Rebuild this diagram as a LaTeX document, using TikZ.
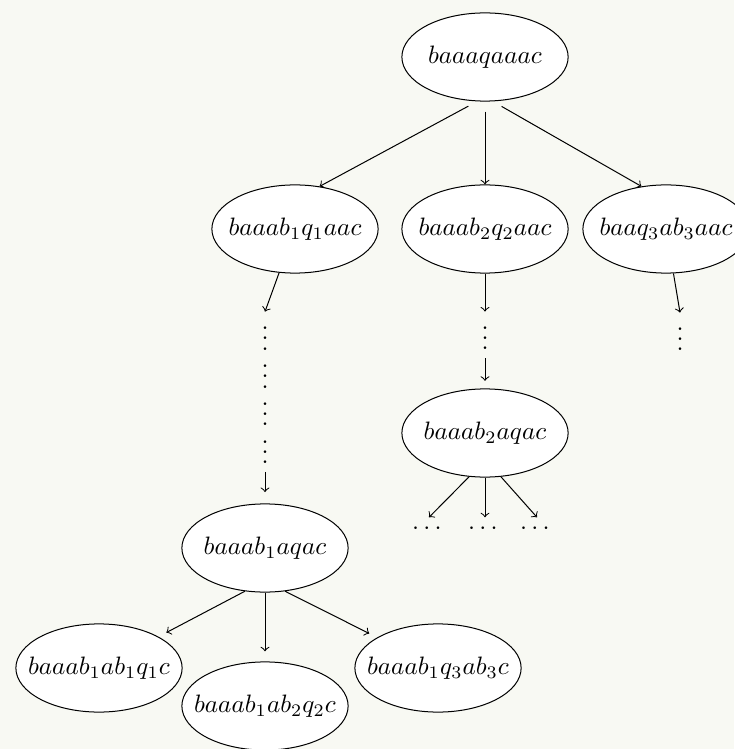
\documentclass[tikz,border=0pt]{standalone}
\usepackage{amsmath,amssymb}
\usepackage{tikz}
\usetikzlibrary{shapes.geometric}
\pgfdeclarelayer{bg}
\pgfsetlayers{bg,main}
\definecolor{paper}{RGB}{248,249,243}
\tikzset{
    state/.style={ellipse, draw, fill=white, inner sep=0pt, minimum width=66pt, minimum height=35pt},
    vdotsbox/.style={inner sep=0pt},
    hdotsbox/.style={inner sep=0pt, text height=6.5pt, text depth=0pt},
    arr/.style={->}
}
\tikzset{every label/.style={shape=rectangle, draw=none, fill=none}}

\begin{document}
\begin{tikzpicture}[x=0.397pt, y=-0.397pt]
        \useasboundingbox (0,0) rectangle (734,749);
        \node (top) [state, label=center:{$baaaqaaac$}] at (485, 57) {};
        \node (n1) [state, label=center:{$baaab_1q_1aac$}] at (295, 229) {};
        \node (n2) [state, label=center:{$baaab_2q_2aac$}] at (485, 229) {};
        \node (n3) [state, label=center:{$baaq_3ab_3aac$}] at (666, 229) {};
        \node (d1) [vdotsbox] at (265, 388) {\vbox{\offinterlineskip\hbox{$\vdots$}\hbox{$\vdots$}\hbox{$\vdots$}\hbox{$\vdots$}}};
        \node (d2) [vdotsbox] at (485, 331) {$\vdots$};
        \node (d3) [vdotsbox] at (680, 332) {$\vdots$};
        \node (m1) [state, label=center:{$baaab_1aqac$}] at (265, 548) {};
        \node (m2) [state, label=center:{$baaab_2aqac$}] at (485, 433) {};
        \node (e1) [hdotsbox] at (429, 526) {$\cdots$};
        \node (e2) [hdotsbox] at (485, 526) {$\cdots$};
        \node (e3) [hdotsbox] at (537, 526) {$\cdots$};
        \node (l1) [state, label=center:{$baaab_1ab_1q_1c$}] at (99, 668) {};
        \node (l2) [state, label=center:{$baaab_1ab_2q_2c$}] at (265, 706) {};
        \node (l3) [state, label=center:{$baaab_1q_3ab_3c$}] at (438, 668) {};
        \begin{pgfonlayer}{bg}
                \fill [paper] (0,0) rectangle (734,749);
                \draw (top.-100) edge [arr, shorten <=4pt] (n1.60);
                \draw (top) edge [arr, shorten <=4pt] (n2);
                \draw (top.-80) edge [arr, shorten <=4pt] (n3.120);
                \draw (n1) edge [arr] (d1.north);
                \draw (n2) edge [arr] (d2);
                \draw (n3) edge [arr] (d3.north);
                \draw (d1) edge [arr, shorten <=3pt, shorten >=4.5pt] (m1);
                \draw (d2) edge [arr, shorten <=3pt, shorten >=3pt] (m2);
                \draw (m2.-110) edge [arr] (e1.north);
                \draw (m2) edge [arr] (e2);
                \draw (m2.-70) edge [arr] (e3.north);
                \draw (m1.-115) edge [arr, shorten >=3.5pt] (l1);
                \draw (m1) edge [arr, shorten >=4pt] (l2);
                \draw (m1.-65) edge [arr, shorten >=3.5pt] (l3);
        \end{pgfonlayer}
\end{tikzpicture}
\end{document}
